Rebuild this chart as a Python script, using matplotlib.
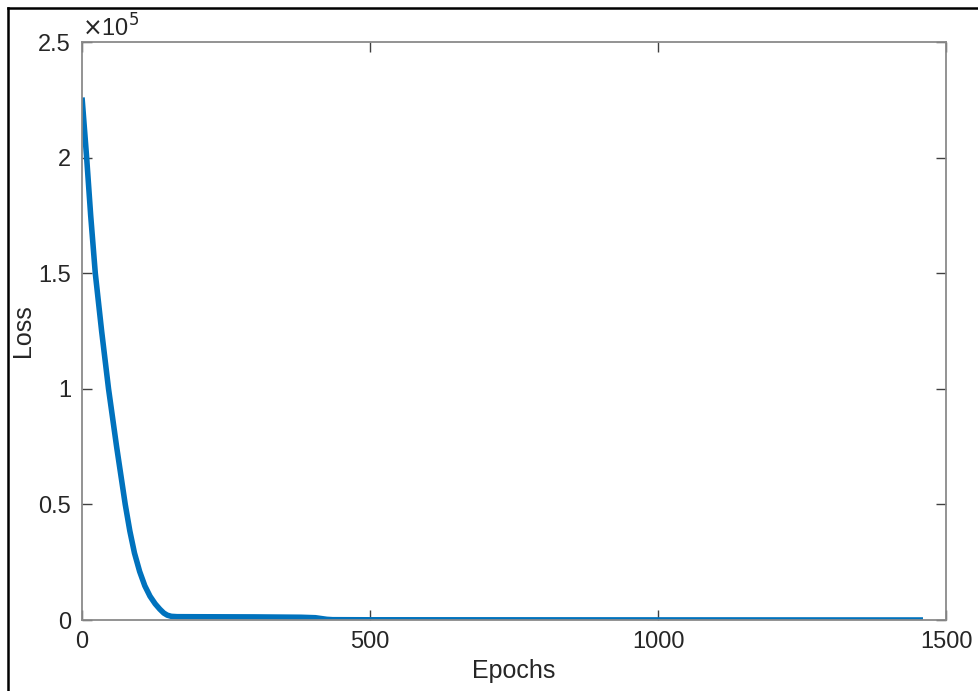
import matplotlib
matplotlib.use('Agg')
import matplotlib.pyplot as plt
from matplotlib.ticker import FuncFormatter
from matplotlib.lines import Line2D

plt.rcParams['font.family'] = ['Liberation Sans', 'DejaVu Sans']

# loss curve
epochs = [0, 8, 15, 23, 34, 46, 60, 75, 83, 91, 100, 109, 118, 127, 135, 142,
          148, 155, 165, 200, 300, 380, 405, 415, 425, 435, 500, 1000, 1460]
loss = [226000, 200000, 175000, 150000, 125000, 100000, 75000, 50000, 38500,
        29000, 21000, 14800, 10300, 7000, 4700, 3000, 2100, 1600, 1450,
        1420, 1350, 1200, 1000, 650, 300, 150, 100, 50, 20]

xticks = [0, 500, 1000, 1500]
yticks = [0, 50000, 100000, 150000, 200000, 250000]

fig = plt.figure(figsize=(9.79, 6.91), dpi=100)
ax = fig.add_axes([0.0838, 0.1027, 0.8825, 0.8365])

ax.plot(epochs, loss, color='#0072BD', linewidth=4, solid_capstyle='butt',
        solid_joinstyle='round')

ax.set_xlim(0, 1500)
ax.set_ylim(0, 250000)
ax.set_xticks(xticks)
ax.set_yticks(yticks)
ax.yaxis.set_major_formatter(FuncFormatter(lambda v, p: '%g' % (v / 1e5)))
ax.tick_params(direction='in', length=7, width=1, color='#404040',
               labelsize=17, labelcolor='#262626', top=True, right=True, pad=8)
for s in ax.spines.values():
    s.set_color('#8a8a8a')
    s.set_linewidth(1.3)

ax.text(0.0, 1.0, r'$\times$10$^5$', transform=ax.transAxes, fontsize=17,
        color='#262626', ha='left', va='bottom')

ax.set_xlabel('Epochs', fontsize=18, color='#262626', labelpad=4)
ax.set_ylabel('Loss', fontsize=18, color='#262626', labelpad=2)

# outer figure border
bx = 8 / 979
by = 1 - 8 / 691
fig.add_artist(Line2D([bx, bx], [0, by], transform=fig.transFigure, color='black', linewidth=1.8))
fig.add_artist(Line2D([bx, 1], [by, by], transform=fig.transFigure, color='black', linewidth=1.8))

fig.savefig('out.png', dpi=100)
